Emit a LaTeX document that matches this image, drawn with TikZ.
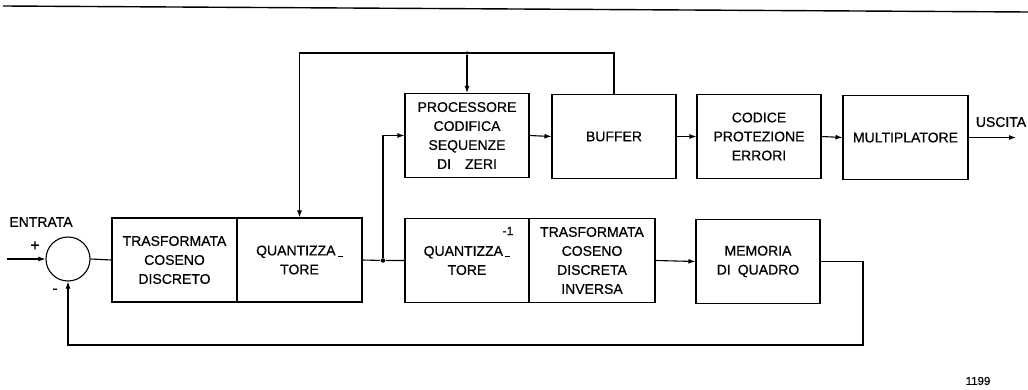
\documentclass[tikz,border=0pt]{standalone}
\usepackage{fontspec}
\setmainfont{Liberation Sans}[FakeBold=0.6]
\usetikzlibrary{arrows.meta}
\begin{document}
\begin{tikzpicture}[x=1pt,y=-1pt,
  line width=1.1pt,
  blk/.style={draw,rectangle,minimum width=124pt,minimum height=84pt,inner sep=2pt,align=center,font=\fontsize{14}{19}\selectfont},
  arr/.style={-{Latex[length=7pt,width=5pt]}},
  lbl/.style={font=\fontsize{14}{16}\selectfont,inner sep=1pt},
  dot/.style={circle,fill,inner sep=0pt,minimum size=4.5pt}]
\useasboundingbox (0,0) rectangle (1028,390);
% top rule
\draw[line width=1.4pt] (3,6) coordinate (r1) -- (1028,12) coordinate (r2);
% summing junction
\node[draw,circle,minimum size=44pt,inner sep=0pt] (sum) at (68,259) {};
\coordinate (in) at (7,259);
\node[lbl] (entrata) at (41,222) {ENTRATA};
\node[lbl,font=\fontsize{16}{18}\selectfont] (plus) at (35,246) {+};
\node[lbl,font=\fontsize{16}{18}\selectfont] (minus) at (55,291) {-};
% lower chain
\node[blk,minimum width=125pt] (tcd) at (174.5,260) {TRASFORMATA\\COSENO\\DISCRETO};
\node[blk,minimum width=125pt] (q) at (299.5,260) {QUANTIZZA\,\rule[-1.5pt]{5pt}{1.2pt}\\TORE};
\node[blk] (iq) at (467,260.5) {QUANTIZZA\,\rule[-1.5pt]{5pt}{1.2pt}\\TORE};
\node[lbl,font=\fontsize{12}{14}\selectfont] (m1) at (508,231) {-1};
\node[blk,minimum width=126pt] (itcd) at (592,260.5) {TRASFORMATA\\COSENO\\DISCRETA\\INVERSA};
\node[blk] (mem) at (758,261.5) {MEMORIA\\DI\enspace QUADRO};
% upper chain
\node[blk] (proc) at (467,135.5) {PROCESSORE\\CODIFICA\\SEQUENZE\\DI\quad ZERI};
\node[blk] (buf) at (614,136.5) {BUFFER};
\node[blk] (cod) at (759,136.5) {CODICE\\PROTEZIONE\\ERRORI};
\node[blk,minimum width=125pt] (mux) at (905.5,137.5) {MULTIPLATORE};
\coordinate (out) at (1016,137.5);
\node[lbl] (uscita) at (1001,122) {USCITA};
\node[lbl,font=\fontsize{11.5}{13}\selectfont] (num) at (978,381) {1199};
% connectors
\draw[arr] (in) -- (sum.west);
\draw (sum.east) -- (tcd.west);
\node[dot] (j) at (383,260.5) {};
\draw (q.east) -- (j) -- (iq.west);
\draw[arr] (j) |- (proc.west);
\draw[arr] (proc.east) -- (buf.west);
\draw[arr] (buf.east) -- (cod.west);
\draw[arr] (cod.east) -- (mux.west);
\draw[arr] (mux.east) -- (out);
\draw[arr] (itcd.east) -- (mem.west);
\coordinate (fr) at (863,345);
\draw[arr] (mem.east) -| (fr) -| (sum.south);
\coordinate (tl) at (q.north |- 0,53);
\node[dot,minimum size=3.5pt] (td) at (proc.north |- 0,53) {};
\draw[arr] (buf.north) |- (tl) -- (q.north);
\draw[arr] (td) -- (proc.north);
\end{tikzpicture}
\end{document}
